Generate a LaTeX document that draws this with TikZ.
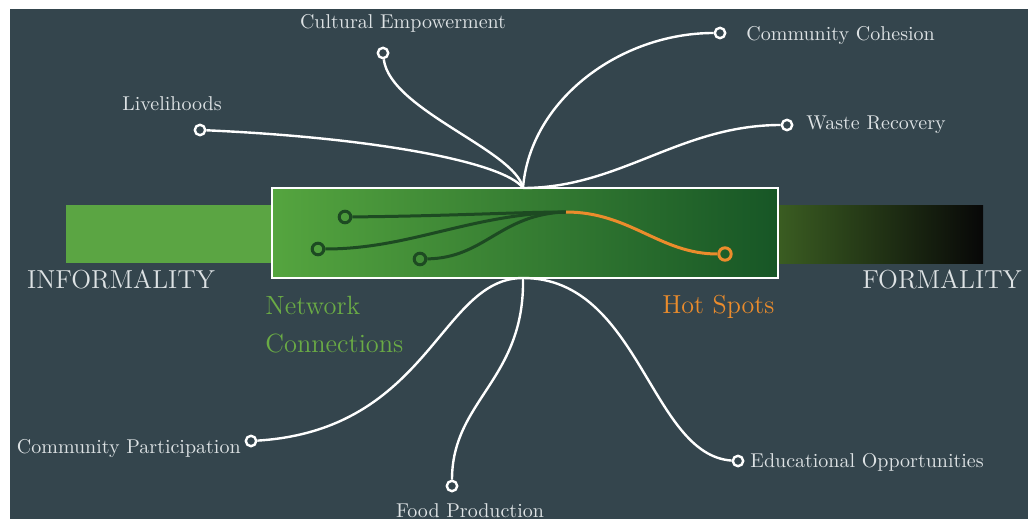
\documentclass[tikz,border=0pt]{standalone}
\usepackage{tikz}
\usetikzlibrary{positioning}

\definecolor{slate}{HTML}{34454D}
\definecolor{labelgrey}{HTML}{DDE2E4}
\definecolor{leafbar}{HTML}{5BA543}
\definecolor{mossbar}{HTML}{3B5E22}
\definecolor{boxleft}{HTML}{55A53F}
\definecolor{boxright}{HTML}{175626}
\definecolor{vinegreen}{HTML}{1D4A22}
\definecolor{netgreen}{HTML}{6AAB45}
\definecolor{hotorange}{HTML}{EB8C2C}

\tikzset{
  endring/.style={circle, draw=white, line width=1.2pt, fill=slate, inner sep=0pt, minimum size=5.2pt},
  link/.style={white, line width=1.2pt},
  lbl/.style={text=labelgrey, font=\fontsize{10}{12}\selectfont, inner sep=0pt},
  poletext/.style={text=labelgrey, font=\fontsize{13}{15}\selectfont, inner sep=0pt},
  greenring/.style={circle, draw=vinegreen, line width=1.5pt, inner sep=0pt, minimum size=5.8pt},
  vine/.style={vinegreen, line width=1.5pt},
  hotring/.style={circle, draw=hotorange, line width=1.5pt, inner sep=0pt, minimum size=6.2pt},
}

\begin{document}
\begin{tikzpicture}[x=0.5pt, y=-0.5pt]
    % Page and dark panel
    \useasboundingbox (0,0) rectangle (1028,519);
    \fill[white] (0,0) rectangle (1028,519);
    \fill[slate] (10,9) rectangle (1028,519);

    % Informality / formality bars
    \fill[leafbar] (66,205) rectangle (275,263);
    \shade[left color=mossbar, right color=black!97] (775,205) rectangle (983,263);
    \node[poletext] (informal) at (121,279) {INFORMALITY};
    \node[poletext] (formal) at (942,279) {FORMALITY};

    % Central box
    \shade[left color=boxleft, right color=boxright] (272,188) rectangle (778,278);
    \draw[white, line width=1.4pt] (272,188) rectangle (778,278);
    \coordinate (hubN) at (523,188);
    \coordinate (hubS) at (523,278);

    % Network connections inside the box
    \node[greenring] (g1) at (345,217) {};
    \node[greenring] (g2) at (318,249) {};
    \node[greenring] (g3) at (420,259) {};
    \coordinate (fork) at (566,212);
    \draw[vine] (g1) .. controls (450,216) and (520,212) .. (fork);
    \draw[vine] (g2) .. controls (410,249) and (470,214) .. (fork);
    \draw[vine] (g3) .. controls (485,258) and (500,214) .. (fork);

    % Hot spot
    \node[hotring] (hot) at (725,254) {};
    \draw[hotorange, line width=1.5pt] (fork) .. controls (630,212) and (660,254) .. (hot);

    \node[text=netgreen, font=\fontsize{13.2}{19}\selectfont, align=left, anchor=north west, inner sep=0pt]
        (netlbl) at (265,296) {Network\\Connections};
    \node[text=hotorange, font=\fontsize{13}{15}\selectfont, anchor=west, inner sep=0pt]
        (hotlbl) at (662,307) {Hot Spots};

    % Upper outcomes
    \node[endring] (liv) at (200,130) {};
    \node[endring] (cul) at (383,53) {};
    \node[endring] (coh) at (720,33) {};
    \node[endring] (was) at (787,125) {};
    \draw[link] (hubN) .. controls (505,163) and (380,138) .. (liv);
    \draw[link] (hubN) .. controls (515,150) and (390,110) .. (cul);
    \draw[link] (hubN) .. controls (530,100) and (620,33) .. (coh);
    \draw[link] (hubN) .. controls (620,188) and (680,125) .. (was);
    \node[lbl] (livtxt) at (172,104) {Livelihoods};
    \node[lbl] (cultxt) at (403,23) {Cultural Empowerment};
    \node[lbl, anchor=west] (cohtxt) at (746,36) {Community Cohesion};
    \node[lbl, anchor=west] (wastxt) at (806,125) {Waste Recovery};

    % Lower outcomes
    \node[endring] (par) at (251,441) {};
    \node[endring] (food) at (452,486) {};
    \node[endring] (edu) at (738,461) {};
    \draw[link] (hubS) .. controls (440,278) and (430,430) .. (par);
    \draw[link] (hubS) .. controls (525,380) and (452,400) .. (food);
    \draw[link] (hubS) .. controls (640,278) and (650,455) .. (edu);
    \node[lbl, anchor=east] (partxt) at (241,448) {Community Participation};
    \node[lbl] (foodtxt) at (470,511) {Food Production};
    \node[lbl, anchor=west] (edutxt) at (750,462) {Educational Opportunities};
\end{tikzpicture}
\end{document}
